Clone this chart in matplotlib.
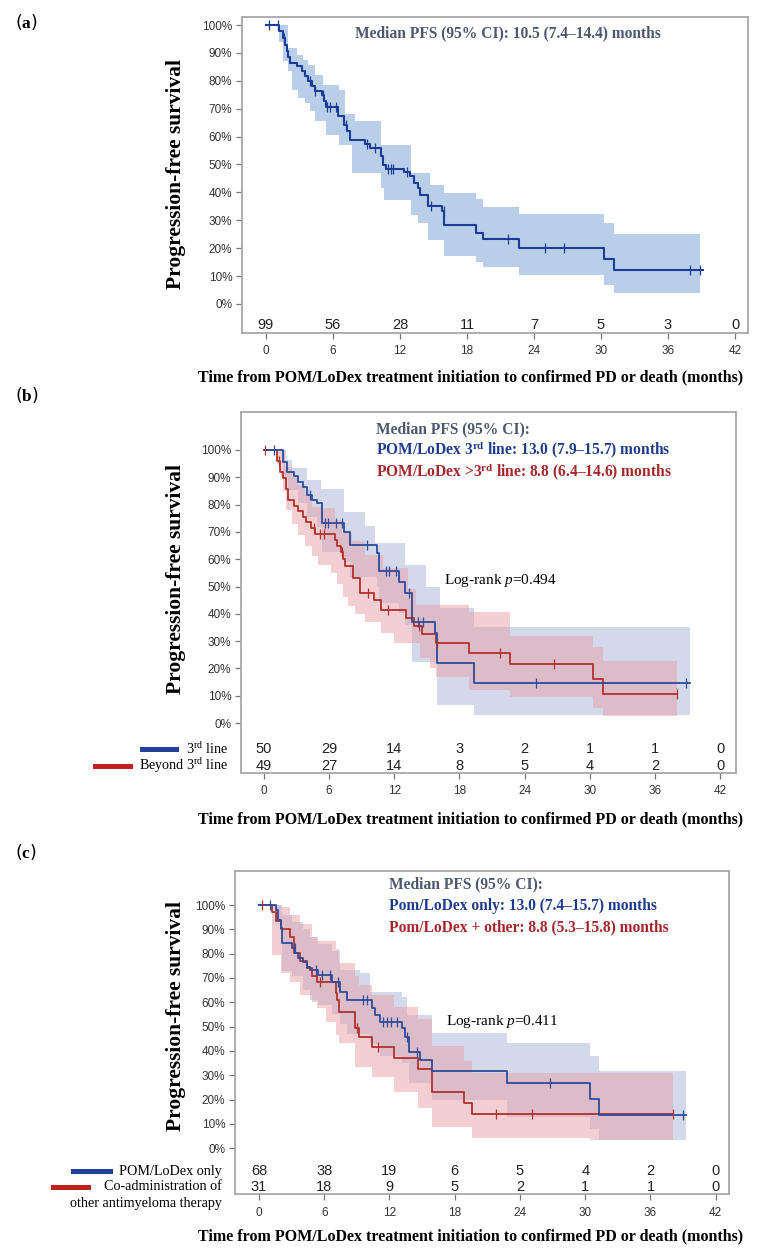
import numpy as np
import matplotlib
matplotlib.use("Agg")
import matplotlib.pyplot as plt

plt.rcParams["mathtext.fontset"] = "custom"
plt.rcParams["mathtext.rm"] = "Liberation Serif"
plt.rcParams["mathtext.it"] = "Liberation Serif:italic"
plt.rcParams["mathtext.bf"] = "Liberation Serif:bold"

SERIF = ["Liberation Serif", "DejaVu Serif"]
NARROW = ["Liberation Sans Narrow", "Liberation Sans", "DejaVu Sans"]

W, H = 768, 1255

# ---------------- data ----------------
ticks_months = [0, 6, 12, 18, 24, 30, 36, 42]

# (a) all patients
a_t = [0, 1.16, 1.55, 1.7, 1.85, 2.0, 2.15, 2.75, 3.19, 3.49, 3.79, 4.09, 4.39, 4.98, 5.19, 5.37,
       6.42, 7.01, 7.22, 7.52, 8.86, 9.31, 10.3, 10.5, 10.74, 12.39, 12.89, 13.28, 13.64, 13.79,
       14.53, 15.73, 15.97, 18.8, 19.4, 22.68, 30.26, 31.16]
a_s = [1.0, 0.98, 0.953, 0.93, 0.906, 0.885, 0.864, 0.852, 0.834, 0.816, 0.798, 0.78, 0.762, 0.75,
       0.729, 0.705, 0.673, 0.643, 0.619, 0.589, 0.574, 0.559, 0.529, 0.499, 0.485, 0.473, 0.458,
       0.434, 0.416, 0.392, 0.35, 0.332, 0.282, 0.256, 0.232, 0.202, 0.161, 0.122]
a_end = 39.15
a_cens = [0.3, 1.05, 1.6, 3.9, 4.4, 5.1, 5.5, 5.7, 6.3, 7.2, 9.0, 9.8, 10.9, 11.2, 11.4, 12.6,
          14.8, 15.9, 21.7, 24.98, 26.7, 37.96, 38.85]
a_band_t = [0, 1.16, 1.55, 2.0, 2.3, 2.75, 2.9, 3.34, 3.5, 3.79, 3.9, 4.39, 5.13, 5.4, 6.5, 7.07,
            7.7, 7.97, 10.3, 10.6, 13.0, 13.6, 14.5, 14.7, 15.9, 18.8, 19.4, 22.68, 30.26, 31.16]
a_band_hi = [1.0, 1.0, 1.0, 0.918, 0.918, 0.894, 0.894, 0.876, 0.876, 0.857, 0.857, 0.822, 0.786,
             0.786, 0.768, 0.68, 0.68, 0.655, 0.571, 0.571, 0.47, 0.47, 0.47, 0.428, 0.399, 0.375,
             0.349, 0.322, 0.289, 0.251]
a_band_lo = [1.0, 0.94, 0.87, 0.834, 0.768, 0.768, 0.738, 0.738, 0.72, 0.72, 0.691, 0.655, 0.655,
             0.607, 0.571, 0.571, 0.47, 0.47, 0.416, 0.374, 0.32, 0.29, 0.231, 0.231, 0.171, 0.152,
             0.131, 0.103, 0.067, 0.041]
a_band_end = 38.85
a_risk = [99, 56, 28, 11, 7, 5, 3, 0]

# (b) 3rd line vs beyond 3rd line
b1_t = [0, 1.78, 2.09, 2.79, 3.1, 3.62, 3.93, 4.39, 4.85, 5.31, 7.4, 7.92, 10.37, 10.59, 12.43,
        13.0, 13.6, 15.74, 15.9, 19.37]
b1_s = [1.0, 0.957, 0.92, 0.903, 0.884, 0.866, 0.835, 0.817, 0.805, 0.734, 0.701, 0.652, 0.622,
        0.557, 0.518, 0.475, 0.371, 0.33, 0.221, 0.146]
b1_end = 39.2
b1_cens = [0.9, 4.2, 5.6, 5.9, 6.6, 7.2, 9.5, 11.2, 11.5, 12.2, 13.4, 14.2, 14.6, 25.05, 38.9]
b1_band_t = [0, 1.78, 2.06, 2.24, 2.6, 3.16, 3.93, 4.0, 4.85, 5.24, 5.31, 7.36, 7.92, 9.3, 10.19,
             10.37, 10.59, 12.43, 13.0, 13.6, 14.95, 15.9, 16.2, 19.37]
b1_band_hi = [1.0, 1.0, 0.963, 0.963, 0.934, 0.934, 0.934, 0.89, 0.89, 0.857, 0.857, 0.774, 0.774,
              0.72, 0.659, 0.659, 0.659, 0.659, 0.579, 0.579, 0.5, 0.5, 0.421, 0.353]
b1_band_lo = [1.0, 0.9, 0.9, 0.853, 0.853, 0.805, 0.756, 0.756, 0.719, 0.719, 0.628, 0.591, 0.536,
              0.536, 0.536, 0.5, 0.439, 0.402, 0.359, 0.225, 0.225, 0.066, 0.066, 0.029]
b2_t = [0, 1.17, 1.45, 1.75, 2.0, 2.25, 2.8, 3.1, 3.6, 3.9, 4.3, 4.7, 6.5, 6.7, 7.1, 7.3, 7.5, 8.2,
        8.8, 10.1, 10.8, 13.1, 13.85, 14.55, 15.8, 18.9, 22.7, 30.3, 31.25]
b2_s = [1.0, 0.959, 0.918, 0.898, 0.857, 0.816, 0.796, 0.776, 0.755, 0.735, 0.714, 0.694, 0.671,
        0.648, 0.625, 0.6, 0.575, 0.53, 0.478, 0.451, 0.414, 0.384, 0.355, 0.325, 0.294, 0.256,
        0.215, 0.161, 0.106]
b2_end = 38.06
b2_cens = [0.1, 1.4, 4.6, 5.2, 5.5, 7.2, 9.6, 11.4, 14.3, 15.9, 21.7, 26.7, 38.06]
b2_band_t = [0, 1.17, 1.55, 1.75, 1.93, 2.07, 2.55, 3.16, 3.78, 4.39, 5.0, 5.31, 6.2, 6.54, 6.7,
             7.15, 7.3, 7.76, 8.07, 8.4, 9.3, 10.8, 11.0, 12.0, 13.3, 14.0, 14.4, 15.3, 15.8, 18.9,
             22.7, 30.3, 31.25]
b2_band_hi = [1.0, 1.0, 1.0, 1.0, 0.939, 0.939, 0.903, 0.872, 0.835, 0.793, 0.793, 0.786, 0.786,
              0.744, 0.744, 0.695, 0.695, 0.695, 0.665, 0.665, 0.616, 0.616, 0.567, 0.567, 0.49,
              0.432, 0.432, 0.432, 0.432, 0.408, 0.32, 0.28, 0.227]
b2_band_lo = [1.0, 0.95, 0.9, 0.85, 0.85, 0.78, 0.73, 0.69, 0.65, 0.61, 0.58, 0.58, 0.55, 0.55,
              0.51, 0.51, 0.46, 0.43, 0.43, 0.40, 0.37, 0.33, 0.33, 0.293, 0.293, 0.293, 0.238,
              0.201, 0.17, 0.12, 0.095, 0.055, 0.026]
b1_risk = [50, 29, 14, 3, 2, 1, 1, 0]
b2_risk = [49, 27, 14, 8, 5, 4, 2, 0]

# (c) POM/LoDex only vs co-administration
c1_t = [0, 1.56, 1.78, 2.0, 2.15, 3.01, 3.31, 3.62, 4.08, 4.45, 4.69, 5.46, 6.69, 7.45, 8.06,
        10.37, 10.67, 11.13, 13.12, 13.43, 13.83, 14.81, 15.89, 22.8, 30.4, 31.3]
c1_s = [1.0, 0.979, 0.938, 0.904, 0.843, 0.822, 0.801, 0.781, 0.767, 0.747, 0.733, 0.712, 0.682,
        0.644, 0.61, 0.576, 0.548, 0.521, 0.493, 0.459, 0.397, 0.363, 0.319, 0.267, 0.201, 0.137]
c1_end = 39.3
c1_cens = [1.0, 3.3, 5.2, 5.8, 6.5, 7.3, 9.6, 9.9, 11.4, 11.8, 12.1, 12.7, 13.6, 14.5, 26.8, 39.0]
c1_band_t = [0, 1.56, 2.15, 3.01, 4.08, 4.69, 5.46, 6.69, 7.45, 8.06, 9.3, 10.2, 11.13, 13.12,
             13.6, 13.83, 15.89, 22.8, 30.4, 31.3]
c1_band_hi = [1.0, 1.0, 0.96, 0.93, 0.9, 0.87, 0.84, 0.81, 0.733, 0.733, 0.719, 0.644, 0.644,
              0.62, 0.548, 0.548, 0.473, 0.432, 0.379, 0.319]
c1_band_lo = [1.0, 0.93, 0.73, 0.71, 0.65, 0.61, 0.59, 0.55, 0.51, 0.47, 0.47, 0.43, 0.38, 0.35,
              0.35, 0.27, 0.2, 0.127, 0.078, 0.034]
c2_t = [0, 1.15, 1.6, 2.06, 2.83, 3.2, 3.8, 4.4, 4.9, 5.3, 7.05, 7.2, 7.4, 8.87, 9.2, 10.4, 12.4,
        14.6, 15.9, 18.86, 19.57]
c2_s = [1.0, 0.972, 0.935, 0.9, 0.87, 0.803, 0.77, 0.74, 0.71, 0.685, 0.638, 0.61, 0.561, 0.496,
        0.459, 0.415, 0.37, 0.325, 0.233, 0.185, 0.14]
c2_end = 38.1
c2_cens = [0.3, 5.6, 9.0, 10.9, 21.8, 25.1, 38.1]
c2_band_t = [0, 1.15, 2.06, 2.83, 3.8, 4.9, 5.3, 6.2, 7.05, 7.4, 8.87, 9.2, 10.4, 12.4, 14.6,
             15.9, 18.86, 19.57, 30.4]
c2_band_hi = [1.0, 1.0, 0.99, 0.96, 0.92, 0.87, 0.85, 0.85, 0.82, 0.76, 0.71, 0.67, 0.63, 0.58,
              0.53, 0.42, 0.36, 0.31, 0.31]
c2_band_lo = [1.0, 0.794, 0.719, 0.685, 0.63, 0.6, 0.575, 0.52, 0.466, 0.432, 0.335, 0.335, 0.294,
              0.233, 0.164, 0.089, 0.089, 0.042, 0.034]
c1_risk = [68, 38, 19, 6, 5, 4, 2, 0]
c2_risk = [31, 18, 9, 5, 2, 1, 1, 0]

# ---------------- style ----------------
A_LINE, A_BAND = "#1b3d98", "#b9cfe9"
BLUE, RED = "#2c4c9c", "#b3302b"
BLUE_BAND, RED_BAND = "#a9b4d8", "#e8a0a8"
BLUE_TXT, RED_TXT, SLATE = "#1f3c8c", "#a3262a", "#4d5870"
SPINE = "#a8a8a8"
XLABEL = "Time from POM/LoDex treatment initiation to confirmed PD or death (months)"

fig = plt.figure(figsize=(W / 100, H / 100), dpi=100)


def fx(x):
    return x / W


def fy(y):
    return 1 - y / H


def panel(box, x0, x42, y0, y100):
    l, r, t, b = box
    ax = fig.add_axes([fx(l), fy(b), (r - l) / W, (b - t) / H])
    ppm = (x42 - x0) / 42
    ppu = y0 - y100
    ax.set_xlim((l - x0) / ppm, (r - x0) / ppm)
    ax.set_ylim(-(b - y0) / ppu, (y0 - t) / ppu)
    for sp in ax.spines.values():
        sp.set_color(SPINE)
        sp.set_linewidth(1.3)
    ax.set_xticks(ticks_months)
    ax.set_xticklabels([str(v) for v in ticks_months], family=NARROW, fontsize=8.5, color="#333333")
    yt = np.round(np.arange(0, 1.01, 0.1), 1)
    ax.set_yticks(yt)
    ax.set_yticklabels([f"{int(v * 100)}%" for v in yt], family=NARROW, fontsize=8.5, color="#333333")
    ax.tick_params(axis="both", direction="out", length=4, width=0.9, color="#777777", pad=3)
    ax.tick_params(axis="x", pad=5)
    return ax, ppu, y0


def row_y(px, ppu, y0):
    return -(px - y0) / ppu


def draw_band(ax, t, lo, hi, t_end, color, alpha):
    tt = np.append(t, t_end)
    ax.fill_between(tt, np.append(lo, lo[-1]), np.append(hi, hi[-1]), step="post",
                    color=color, alpha=alpha, lw=0, zorder=1)


def draw_km(ax, t, s, t_end, cens, color, lw=1.3):
    tt = np.append(t, t_end)
    ss = np.append(s, s[-1])
    ax.step(tt, ss, where="post", color=color, lw=lw, zorder=3)
    idx = np.searchsorted(t, cens, side="right") - 1
    ax.plot(cens, np.asarray(s)[idx], ls="none", marker="|", ms=7, mew=0.9, color=color, zorder=4)


def risk_row(ax, yv, counts):
    for m, n in zip(ticks_months, counts):
        ax.text(m, yv, str(n), ha="center", va="center", family=NARROW, fontsize=10.5, color="#222222")


def ylabel(ycenter):
    fig.text(fx(176), fy(ycenter), "Progression-free survival", rotation=90, ha="center",
             va="center", family=SERIF, fontweight="bold", fontsize=15.5)


def xlabel(y):
    fig.text(fx(471), fy(y), XLABEL, ha="center", va="center", family=SERIF, fontweight="bold",
             fontsize=11.5)


def tag(y, letter):
    fig.text(fx(15), fy(y), "($\\mathbf{" + letter + "}$)", ha="left", va="center", fontsize=12.5)


def legend_line(x1, x2, y, color):
    fig.add_artist(plt.Line2D([fx(x1), fx(x2)], [fy(y), fy(y)], color=color, lw=3.6,
                              transform=fig.transFigure))


def note(x, y, s, color="#000000", bold=True, size=11.2):
    fig.text(fx(x), fy(y), s, ha="left", va="center", family=SERIF,
             fontweight="bold" if bold else "normal", fontsize=size, color=color)


# ---------------- panel (a) ----------------
ax, ppu, y0 = panel((242, 748, 17, 333), 266, 735, 304, 25)
draw_band(ax, a_band_t, a_band_lo, a_band_hi, a_band_end, A_BAND, 1.0)
draw_km(ax, a_t, a_s, a_end, a_cens, A_LINE, lw=1.5)
risk_row(ax, row_y(325, ppu, y0), a_risk)
note(355, 33, "Median PFS (95% CI): 10.5 (7.4\u201314.4) months", SLATE)
ylabel(174)
xlabel(377)
tag(22, "a")

# ---------------- panel (b) ----------------
ax, ppu, y0 = panel((241, 736, 412, 773), 264, 720, 723, 450)
draw_band(ax, b1_band_t, b1_band_lo, b1_band_hi, b1_end, BLUE_BAND, 0.5)
draw_band(ax, b2_band_t, b2_band_lo, b2_band_hi, b2_end, RED_BAND, 0.5)
draw_km(ax, b2_t, b2_s, b2_end, b2_cens, RED)
draw_km(ax, b1_t, b1_s, b1_end, b1_cens, BLUE)
risk_row(ax, row_y(749, ppu, y0), b1_risk)
risk_row(ax, row_y(766, ppu, y0), b2_risk)
note(376, 429, "Median PFS (95% CI):", SLATE)
note(376, 450, "POM/LoDex 3$^{\\mathbf{rd}}$ line: 13.0 (7.9\u201315.7) months", BLUE_TXT)
note(376, 472, "POM/LoDex >3$^{\\mathbf{rd}}$ line: 8.8 (6.4\u201314.6) months", RED_TXT)
note(444, 581, "Log-rank $\\mathit{p}$=0.494", bold=False, size=11)
legend_line(142, 176, 749, "#1f3f9a")
legend_line(95, 130, 766, "#c0201e")
fig.text(fx(228), fy(749), "3$^{\\mathrm{rd}}$ line", ha="right", va="center", family=SERIF, fontsize=10.2)
fig.text(fx(228), fy(766), "Beyond 3$^{\\mathrm{rd}}$ line", ha="right", va="center", family=SERIF,
         fontsize=10.2)
ylabel(579)
xlabel(819)
tag(395, "b")

# ---------------- panel (c) ----------------
ax, ppu, y0 = panel((235, 729, 871, 1194), 259, 715.7, 1148.3, 905)
draw_band(ax, c1_band_t, c1_band_lo, c1_band_hi, c1_end, BLUE_BAND, 0.5)
draw_band(ax, c2_band_t, c2_band_lo, c2_band_hi, c2_end, RED_BAND, 0.5)
draw_km(ax, c2_t, c2_s, c2_end, c2_cens, RED)
draw_km(ax, c1_t, c1_s, c1_end, c1_cens, BLUE)
risk_row(ax, row_y(1170.7, ppu, y0), c1_risk)
risk_row(ax, row_y(1186.7, ppu, y0), c2_risk)
note(389, 884, "Median PFS (95% CI):", SLATE)
note(389, 906, "Pom/LoDex only: 13.0 (7.4\u201315.7) months", BLUE_TXT)
note(389, 927, "Pom/LoDex + other: 8.8 (5.3\u201315.8) months", RED_TXT)
note(446, 1022, "Log-rank $\\mathit{p}$=0.411", bold=False, size=11)
legend_line(73, 110, 1171, "#1f3f9a")
legend_line(53, 88, 1186.5, "#c0201e")
for yy, s in [(1171, "POM/LoDex only"), (1186.5, "Co-administration of"),
              (1203, "other antimyeloma therapy")]:
    fig.text(fx(222), fy(yy), s, ha="right", va="center", family=SERIF, fontsize=10.2)
ylabel(1016)
xlabel(1236)
tag(852, "c")

fig.savefig("out.png", dpi=100)
